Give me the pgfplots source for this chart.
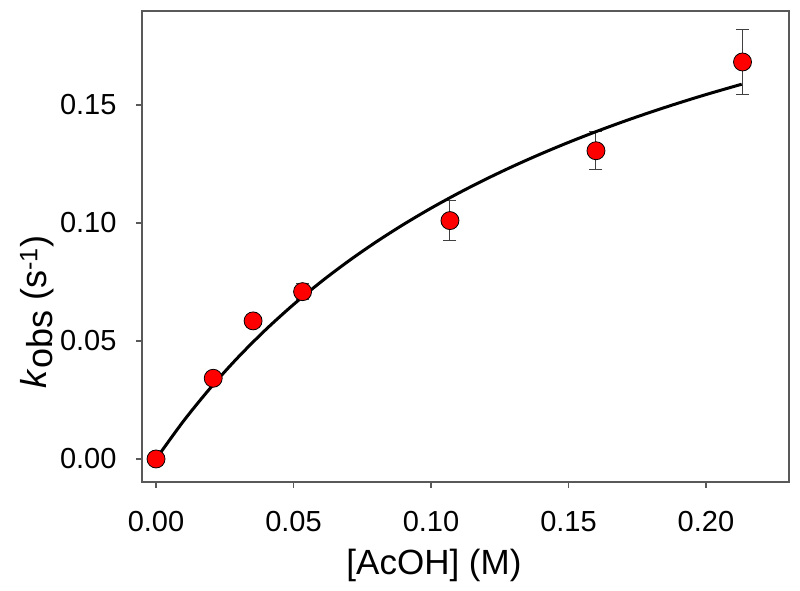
\documentclass[border=0pt]{standalone}
\usepackage{fontspec}
\setmainfont{Liberation Sans}
\usepackage{pgfplots}
\pgfplotsset{compat=1.18}
\begin{document}
\begin{tikzpicture}
\useasboundingbox (-142pt,-109pt) rectangle (658pt,482pt);
\begin{axis}[
  at={(0pt,0pt)}, anchor=south west,
  scale only axis, width=647pt, height=471pt,
  xmin=-0.0051, xmax=0.2302, ymin=-0.00975, ymax=0.1898,
  xtick={0,0.05,0.1,0.15,0.2}, ytick={0,0.05,0.1,0.15},
  scaled ticks=false,
  tick align=outside, tick pos=left, major tick length=6pt,
  axis line style={draw=black!65, line width=1.5pt},
  every tick/.style={draw=black!65, line width=1.2pt},
  /pgf/number format/assume math mode=true,
  xticklabel style={/pgf/number format/fixed, /pgf/number format/fixed zerofill, /pgf/number format/precision=2, yshift=-20pt},
  yticklabel style={/pgf/number format/fixed, /pgf/number format/fixed zerofill, /pgf/number format/precision=2, xshift=-16pt},
  tick label style={font=\fontsize{29}{31}\selectfont},
  label style={font=\fontsize{35}{38}\selectfont},
  xlabel={[AcOH] (M)},
  ylabel={\fontsize{36}{40}\selectfont\textit{k}\raisebox{-0.3ex}{obs} (s\textsuperscript{-1})},
  xlabel style={at={(axis description cs:0.4513,-0.1762)}, anchor=center},
  ylabel style={at={(axis description cs:-0.1625,0.361)}, anchor=center},
]
\addplot[only marks, mark=*, mark size=9pt,
  mark options={fill=red, draw=black, line width=0.8pt},
  error bars/.cd, y dir=both, y explicit,
  error bar style={black!75, line width=1pt},
  error mark options={rotate=90, mark size=6.5pt, black!75, line width=1pt}]
  coordinates {
  (0,0) +- (0,0)
  (0.0208,0.0342) +- (0,0)
  (0.0353,0.0585) +- (0,0)
  (0.0533,0.0709) +- (0,0.0035)
  (0.1069,0.1010) +- (0,0.0085)
  (0.1600,0.1306) +- (0,0.0080)
  (0.2133,0.1682) +- (0,0.0136)
  };
\addplot[black, line width=3pt, smooth] coordinates {
  (0,0) (0.01,0.01607) (0.02,0.03040) (0.03,0.04328) (0.04,0.05490)
  (0.05,0.06544) (0.06,0.07505) (0.07,0.08384) (0.08,0.09192)
  (0.09,0.09936) (0.10,0.10625) (0.11,0.11263) (0.12,0.11857)
  (0.13,0.12411) (0.14,0.12928) (0.15,0.13413) (0.16,0.13868)
  (0.17,0.14296) (0.18,0.14699) (0.19,0.15079) (0.20,0.15439)
  (0.213,0.15878)
};
\end{axis}
\end{tikzpicture}
\end{document}
